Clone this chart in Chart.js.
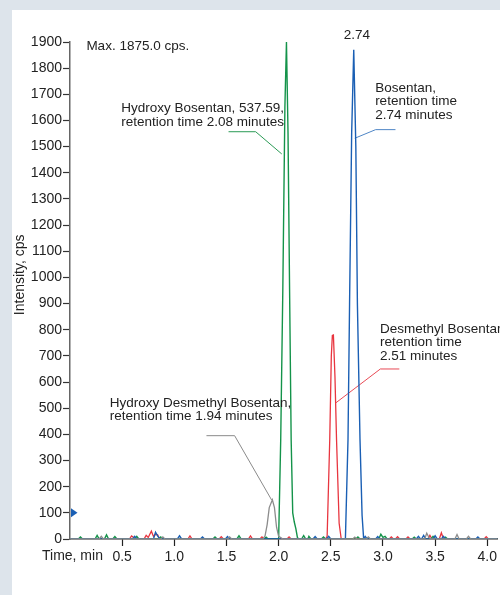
<!DOCTYPE html>
<html>
<head>
<meta charset="utf-8">
<script src="https://cdn.jsdelivr.net/npm/chart.js@4.4.0/dist/chart.umd.min.js"></script>
<style>
    html, body { margin: 0; padding: 0; }
    body { width: 500px; height: 595px; background: #dde4eb; position: relative; overflow: hidden; }
    #panel { position: absolute; left: 12px; top: 10px; right: 0; bottom: 0; background: #fff; }
    canvas { position: absolute; left: 0; top: 0; }
</style>
</head>
<body>
<div id="panel"></div>
<canvas id="chromatogram" width="500" height="595"></canvas>
<script>
// Extracted ion chromatogram: time (min) vs intensity (cps)
const xTicks = [0.5, 1.0, 1.5, 2.0, 2.5, 3.0, 3.5, 4.0];
const yMax = 1900;

// Hydroxy Bosentan (green)
const greenTime = [0, 0.08, 0.10, 0.12, 0.24, 0.26, 0.28, 0.33, 0.35, 0.37, 0.41, 0.43, 0.45, 0.62, 0.64, 0.66,
    0.85, 0.87, 0.89, 1.37, 1.39, 1.41, 1.60, 1.62, 1.64, 1.86, 1.88, 1.90, 2.00, 2.02, 2.04, 2.06, 2.075, 2.09,
    2.105, 2.12, 2.135, 2.15, 2.165, 2.18, 2.19, 2.22, 2.24, 2.26, 2.28, 2.29, 2.31, 2.41, 2.43, 2.45, 2.74, 2.76,
    2.78, 2.96, 2.98, 3.00, 3.02, 3.04, 3.28, 3.30, 3.32, 3.46, 3.48, 3.50, 3.58, 3.60, 3.62, 4.1];
const greenIntensity = [0, 0, 8, 0, 0, 14, 0, 0, 16, 0, 0, 9, 0, 0, 10, 0,
    0, 8, 0, 0, 8, 0, 0, 12, 0, 0, 7, 0, 0, 380, 950, 1650, 1900, 1550,
    950, 380, 100, 65, 40, 6, 0, 0, 13, 0, 0, 10, 0, 0, 8, 0, 0, 8,
    0, 0, 18, 6, 10, 0, 0, 7, 0, 0, 10, 0, 0, 7, 0, 0];

// Bosentan (blue)
const blueTime = [0, 0.60, 0.62, 0.64, 0.80, 0.82, 0.84, 0.86, 1.03, 1.05, 1.07, 1.25, 1.27, 1.29, 1.49, 1.51, 1.53,
    2.33, 2.35, 2.37, 2.46, 2.48, 2.50, 2.64, 2.665, 2.68, 2.70, 2.72, 2.74, 2.755, 2.78, 2.80, 2.815, 2.83, 2.85,
    2.93, 2.95, 2.97, 3.32, 3.34, 3.36, 3.37, 3.39, 3.41, 3.48, 3.50, 3.52, 3.56, 3.58, 3.60, 3.89, 3.91, 3.93, 4.1];
const blueIntensity = [0, 0, 10, 0, 0, 26, 12, 0, 0, 12, 0, 0, 8, 0, 0, 9, 0,
    0, 9, 0, 0, 10, 0, 0, 380, 900, 1550, 1870, 1500, 900, 380, 90, 0, 10, 0,
    0, 9, 0, 0, 10, 0, 0, 14, 0, 0, 12, 0, 0, 10, 0, 0, 8, 0, 0];

// Desmethyl Bosentan (red)
const redTime = [0, 0.57, 0.59, 0.61, 0.63, 0.71, 0.73, 0.75, 0.78, 0.80, 0.82, 0.84, 0.86, 1.13, 1.15, 1.17,
    1.43, 1.45, 1.47, 1.71, 1.73, 1.75, 1.82, 1.84, 1.86, 2.08, 2.10, 2.12, 2.45, 2.465, 2.49, 2.505, 2.515, 2.525,
    2.54, 2.555, 2.58, 2.60, 3.06, 3.08, 3.10, 3.12, 3.14, 3.16, 3.22, 3.24, 3.26, 3.43, 3.45, 3.47, 3.54, 3.56,
    3.58, 3.97, 3.99, 4.01, 4.1];
const redIntensity = [0, 0, 12, 6, 0, 0, 14, 6, 30, 10, 18, 16, 0, 0, 12, 0,
    0, 9, 0, 0, 12, 0, 0, 8, 0, 0, 8, 0, 0, 10, 380, 700, 778, 780,
    620, 380, 60, 0, 0, 8, 0, 0, 9, 0, 0, 8, 0, 0, 14, 0, 0, 24,
    0, 0, 9, 0, 0];

// Hydroxy Desmethyl Bosentan (gray)
const grayTime = [0, 0.28, 0.30, 0.32, 0.87, 0.89, 0.91, 1.51, 1.53, 1.55, 1.85, 1.87, 1.89, 1.91, 1.94, 1.96,
    1.98, 2.00, 2.02, 2.04, 2.71, 2.73, 2.75, 2.84, 2.86, 2.88, 3.40, 3.42, 3.44, 3.46, 3.69, 3.71, 3.73, 3.80,
    3.82, 3.84, 4.1];
const grayIntensity = [0, 0, 10, 0, 0, 8, 0, 0, 8, 0, 0, 12, 55, 120, 150, 120,
    45, 10, 6, 0, 0, 7, 0, 0, 8, 0, 0, 22, 6, 0, 0, 17, 0, 0,
    10, 0, 0];

// Leader lines from the peak labels (time, intensity)
const greenLeaderTime = [1.52, 1.78, 2.03];
const greenLeaderIntensity = [1557, 1557, 1472];
const blueLeaderTime = [3.12, 2.93, 2.73];
const blueLeaderIntensity = [1565, 1565, 1532];
const redLeaderTime = [3.157, 2.975, 2.55];
const redLeaderIntensity = [650, 650, 521];
const grayLeaderTime = [1.308, 1.578, 1.933];
const grayLeaderIntensity = [395, 395, 149];

const FONT = '"Liberation Sans", Arial, sans-serif';
const TEXT = '#222';

// label anchors in data units (left edge / baseline of first line)
const peakLabels = [
    { t: 0.157, v: 1871, lines: ['Max. 1875.0 cps.'] },
    { t: 0.491, v: 1632, lines: ['Hydroxy Bosentan, 537.59,', 'retention time 2.08 minutes'] },
    { t: 2.75, v: 1911, lines: ['2.74'], align: 'center' },
    { t: 2.925, v: 1709, lines: ['Bosentan,', 'retention time', '2.74 minutes'] },
    { t: 2.971, v: 789, lines: ['Desmethyl Bosentan', 'retention time', '2.51 minutes'] },
    { t: 0.38, v: 506, lines: ['Hydroxy Desmethyl Bosentan,', 'retention time 1.94 minutes'] }
];

function toPoints(times, values) {
    return times.map((t, i) => ({ x: t, y: values[i] }));
}

function trace(label, times, values, color, width) {
    return {
        label: label,
        data: toPoints(times, values),
        borderColor: color,
        borderWidth: width,
        pointRadius: 0,
        tension: 0,
        fill: false
    };
}

const annotationPlugin = {
    id: 'annotations',
    afterDraw(chart) {
        const ctx = chart.ctx;
        const x = chart.scales.x;
        const y = chart.scales.y;
        ctx.save();
        ctx.fillStyle = TEXT;
        ctx.font = '13.5px ' + FONT;
        ctx.textBaseline = 'alphabetic';
        peakLabels.forEach(function(l) {
            ctx.textAlign = l.align || 'left';
            l.lines.forEach(function(line, i) {
                ctx.fillText(line, x.getPixelForValue(l.t), y.getPixelForValue(l.v) + i * 13.5);
            });
        });

        // axis titles
        ctx.font = '14px ' + FONT;
        ctx.textAlign = 'left';
        ctx.fillText('Time, min', x.left - 28, y.bottom + 21);
        ctx.save();
        ctx.translate(24, y.getPixelForValue(1010));
        ctx.rotate(-Math.PI / 2);
        ctx.textAlign = 'center';
        ctx.fillText('Intensity, cps', 0, 0);
        ctx.restore();

        // blue threshold marker on the y axis
        const my = y.getPixelForValue(100);
        ctx.fillStyle = '#1a5fb4';
        ctx.beginPath();
        ctx.moveTo(x.left + 1, my - 4.5);
        ctx.lineTo(x.left + 7.5, my);
        ctx.lineTo(x.left + 1, my + 4.5);
        ctx.closePath();
        ctx.fill();
        ctx.restore();
    }
};

new Chart(document.getElementById('chromatogram'), {
    type: 'line',
    data: {
        datasets: [
            trace('Hydroxy Desmethyl Bosentan', grayTime, grayIntensity, '#8c8c8c', 1.3),
            trace('Bosentan', blueTime, blueIntensity, '#1a5fb4', 1.4),
            trace('Hydroxy Bosentan', greenTime, greenIntensity, '#14934a', 1.4),
            trace('Desmethyl Bosentan', redTime, redIntensity, '#e8353f', 1.3),
            trace('leader green', greenLeaderTime, greenLeaderIntensity, '#2a9a55', 1),
            trace('leader blue', blueLeaderTime, blueLeaderIntensity, '#4f86c6', 1),
            trace('leader red', redLeaderTime, redLeaderIntensity, '#e84a55', 1),
            trace('leader gray', grayLeaderTime, grayLeaderIntensity, '#8a8a8a', 1)
        ]
    },
    options: {
        responsive: false,
        animation: false,
        devicePixelRatio: 1,
        layout: { padding: { top: 42, left: 0, right: 0, bottom: 0 } },
        plugins: {
            legend: { display: false },
            tooltip: { enabled: false }
        },
        scales: {
            x: {
                type: 'linear',
                min: 0,
                max: 4.1,
                afterFit: function(s) { s.height = 56; },
                afterBuildTicks: function(s) {
                    s.ticks = xTicks.map(function(v) { return { value: v }; });
                },
                ticks: {
                    autoSkip: false,
                    maxRotation: 0,
                    padding: 3,
                    color: TEXT,
                    font: { family: FONT, size: 14 },
                    callback: function(v) { return v.toFixed(1); }
                },
                grid: { drawOnChartArea: false, tickLength: 7, tickColor: '#222', tickWidth: 1.2 },
                border: { color: '#222', width: 1.5 }
            },
            y: {
                min: 0,
                max: yMax,
                afterFit: function(s) { s.width = 70; },
                ticks: {
                    stepSize: 100,
                    autoSkip: false,
                    padding: 1,
                    color: TEXT,
                    font: { family: FONT, size: 14 },
                    callback: function(v) { return String(v); }
                },
                grid: { drawOnChartArea: false, tickLength: 7, tickColor: '#333', tickWidth: 1.2 },
                border: { color: '#666', width: 1.5 }
            }
        }
    },
    plugins: [annotationPlugin]
});
</script>
</body>
</html>
